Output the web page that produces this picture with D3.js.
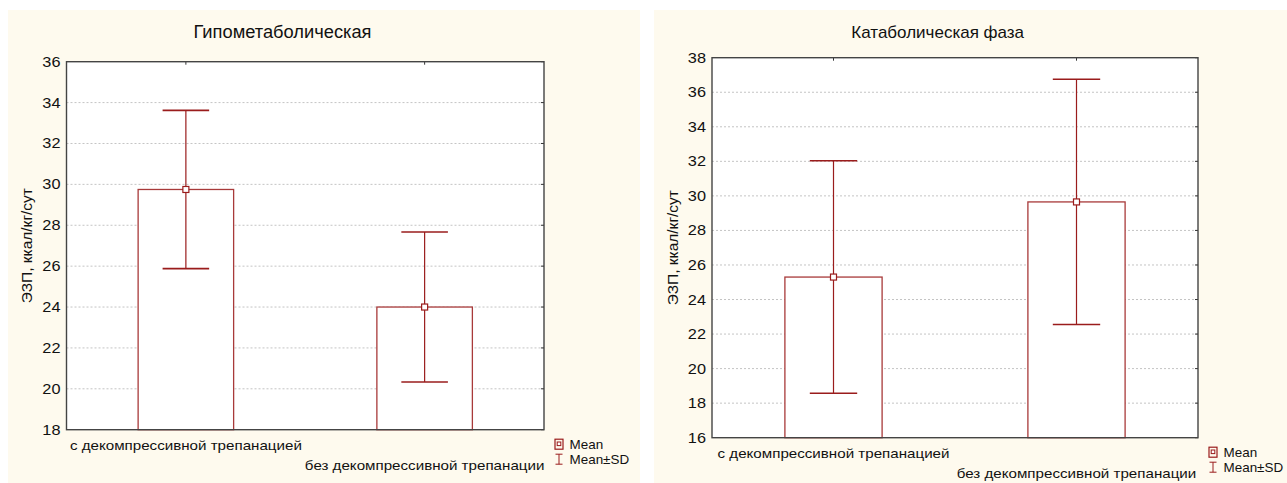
<!DOCTYPE html>
<html><head><meta charset="utf-8">
<script src="https://cdn.jsdelivr.net/npm/d3@7"></script>
<style>body{margin:0;background:#fff}svg{display:block}text{font-family:"Liberation Sans",Arial,sans-serif;fill:#111}</style>
</head><body>
<svg id="c" width="1287" height="483"></svg>
<script>
const categories = ["с декомпрессивной трепанацией", "без декомпрессивной трепанации"];
const titles = ["Гипометаболическая", "Катаболическая фаза"];
const yLabel = "ЭЗП, ккал/кг/сут";
const hypoMean = [29.75, 24.0];
const hypoSD = [3.87, 3.67];
const cataMean = [25.3, 29.65];
const cataSD = [6.73, 7.1];
const hypoTicks = [18, 20, 22, 24, 26, 28, 30, 32, 34, 36];
const cataTicks = [16, 18, 20, 22, 24, 26, 28, 30, 32, 34, 36, 38];
const legendLabels = ["Mean", "Mean±SD"];

const panels = [
  {title: titles[0], mean: hypoMean, sd: hypoSD, ticks: hypoTicks,
   bg: [8, 10, 632, 473], x0: 66.5, x1: 544, y0: 61.7, y1: 429.7, titleX: 282.5, titleSize: 18.3},
  {title: titles[1], mean: cataMean, sd: cataSD, ticks: cataTicks,
   bg: [654, 10, 633, 473], x0: 712, x1: 1198, y0: 57.7, y1: 437.7, titleX: 937.7, titleSize: 17}
];

const RED = "#9a1c1c", BARRED = "#a83a3a";
const SX = 1.165;
const svg = d3.select("#c");

panels.forEach(p => {
  const g = svg.append("g");
  g.append("rect").attr("x", p.bg[0]).attr("y", p.bg[1]).attr("width", p.bg[2]).attr("height", p.bg[3]).attr("fill", "#fefaee");
  g.append("rect").attr("x", p.x0).attr("y", p.y0).attr("width", p.x1 - p.x0).attr("height", p.y1 - p.y0).attr("fill", "#fff");

  const y = d3.scaleLinear().domain(d3.extent(p.ticks)).range([p.y1, p.y0]);
  const x = d3.scaleBand().domain(categories).range([p.x0, p.x1]).padding(0);
  const bw = x.bandwidth();
  const cx = c => x(c) + bw / 2;

  // grid
  g.append("g").selectAll("line").data(p.ticks.slice(1, -1)).join("line")
    .attr("x1", p.x0).attr("x2", p.x1).attr("y1", d => y(d)).attr("y2", d => y(d))
    .attr("stroke", "#c4c4c4").attr("stroke-width", 1).attr("stroke-dasharray", "2,2");

  // y axis
  const ya = g.append("g").attr("transform", `translate(${p.x0},0)`)
    .call(d3.axisLeft(y).tickValues(p.ticks).tickSize(0).tickPadding(6).tickFormat(d3.format("d")));
  ya.select(".domain").remove();
  ya.selectAll("text").attr("font-size", 14).attr("fill", "#111")
    .style("font-family", '"Liberation Sans",Arial,sans-serif')
    .attr("x", -6 / SX).attr("transform", `scale(${SX},1)`);

  // inner ticks on right frame
  g.append("g").selectAll("line").data(p.ticks).join("line")
    .attr("x1", p.x1 - 3).attr("x2", p.x1).attr("y1", d => y(d)).attr("y2", d => y(d)).attr("stroke", "#333");
  // x ticks top & bottom
  g.append("g").selectAll("line").data(categories).join("line")
    .attr("x1", d => cx(d)).attr("x2", d => cx(d)).attr("y1", p.y1).attr("y2", p.y1 - 3).attr("stroke", "#333");
  g.append("g").selectAll("line").data(categories).join("line")
    .attr("x1", d => cx(d)).attr("x2", d => cx(d)).attr("y1", p.y0).attr("y2", p.y0 + 3).attr("stroke", "#333");

  // bars
  const barW = bw * 0.4;
  g.append("g").selectAll("rect").data(categories).join("rect")
    .attr("x", d => cx(d) - barW / 2).attr("width", barW)
    .attr("y", (d, i) => y(p.mean[i])).attr("height", (d, i) => p.y1 - y(p.mean[i]))
    .attr("fill", "#fff").attr("stroke", BARRED).attr("stroke-width", 1.3);

  // error bars
  const capW = bw * 0.195;
  const eb = g.append("g").selectAll("g").data(categories).join("g");
  eb.append("line").attr("x1", d => cx(d)).attr("x2", d => cx(d))
    .attr("y1", (d, i) => y(p.mean[i] + p.sd[i])).attr("y2", (d, i) => y(p.mean[i] - p.sd[i]))
    .attr("stroke", RED).attr("stroke-width", 1.2);
  eb.append("line").attr("x1", d => cx(d) - capW / 2).attr("x2", d => cx(d) + capW / 2)
    .attr("y1", (d, i) => y(p.mean[i] + p.sd[i])).attr("y2", (d, i) => y(p.mean[i] + p.sd[i]))
    .attr("stroke", RED).attr("stroke-width", 1.6);
  eb.append("line").attr("x1", d => cx(d) - capW / 2).attr("x2", d => cx(d) + capW / 2)
    .attr("y1", (d, i) => y(p.mean[i] - p.sd[i])).attr("y2", (d, i) => y(p.mean[i] - p.sd[i]))
    .attr("stroke", RED).attr("stroke-width", 1.6);
  eb.append("rect").attr("x", d => cx(d) - 3).attr("y", (d, i) => y(p.mean[i]) - 3)
    .attr("width", 6).attr("height", 6).attr("fill", "#fff").attr("stroke", RED).attr("stroke-width", 1.2);

  // frame
  g.append("rect").attr("x", p.x0).attr("y", p.y0).attr("width", p.x1 - p.x0).attr("height", p.y1 - p.y0)
    .attr("fill", "none").attr("stroke", "#444").attr("stroke-width", 1.4);

  // category labels (staggered)
  g.append("g").selectAll("text").data(categories).join("text")
    .attr("transform", (d, i) => `translate(${cx(d)},${p.y1 + (i === 0 ? 20.5 : 40)}) scale(${SX},1)`)
    .attr("text-anchor", "middle").attr("font-size", 13).text(d => d);

  // title
  g.append("text").attr("x", p.titleX).attr("y", 38.3).attr("text-anchor", "middle")
    .attr("font-size", p.titleSize).text(p.title);

  // y label
  g.append("text").attr("transform", `translate(${p.x0 - 34.5},${(p.y0 + p.y1) / 2}) rotate(-90)`)
    .attr("text-anchor", "middle").attr("font-size", 15.5).text(yLabel);

  // legend
  const lx = p.x1 + 15, ly = p.y1 + 14.5;
  g.append("rect").attr("x", lx - 4).attr("y", ly - 5).attr("width", 8).attr("height", 10).attr("fill", "none").attr("stroke", RED).attr("stroke-width", 1.2);
  g.append("rect").attr("x", lx - 1.8).attr("y", ly - 2.2).attr("width", 3.6).attr("height", 3.6).attr("fill", "#fff").attr("stroke", RED).attr("stroke-width", 1);
  const ly2 = ly + 15;
  g.append("line").attr("x1", lx).attr("x2", lx).attr("y1", ly2 - 5).attr("y2", ly2 + 5).attr("stroke", RED);
  g.append("line").attr("x1", lx - 3.5).attr("x2", lx + 3.5).attr("y1", ly2 - 5).attr("y2", ly2 - 5).attr("stroke", RED);
  g.append("line").attr("x1", lx - 3.5).attr("x2", lx + 3.5).attr("y1", ly2 + 5).attr("y2", ly2 + 5).attr("stroke", RED);
  g.append("g").selectAll("text").data(legendLabels).join("text")
    .attr("transform", (d, i) => `translate(${lx + 10.5},${ly + 4.5 + i * 15}) scale(1.12,1)`)
    .attr("font-size", 12).text(d => d);
});
</script>
</body></html>
